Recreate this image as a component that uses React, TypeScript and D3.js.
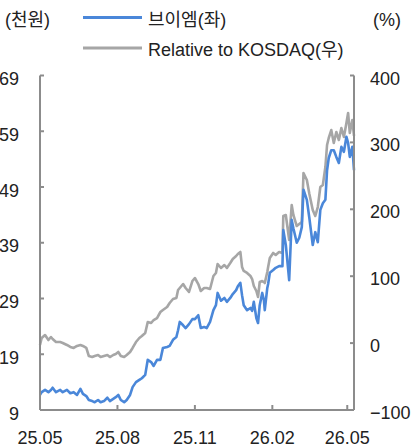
import React from "react";
import * as d3 from "d3";

const dates = [
  "2025-05-01","2025-05-03","2025-05-07","2025-05-11","2025-05-14","2025-05-16","2025-05-20","2025-05-25","2025-05-28",
  "2025-06-02","2025-06-06","2025-06-10","2025-06-14","2025-06-18","2025-06-21","2025-06-25","2025-06-28",
  "2025-07-02","2025-07-05","2025-07-09","2025-07-12","2025-07-16","2025-07-20","2025-07-23","2025-07-27","2025-07-30",
  "2025-08-02","2025-08-05","2025-08-09","2025-08-12","2025-08-16","2025-08-19","2025-08-23","2025-08-27","2025-08-30",
  "2025-09-03","2025-09-06","2025-09-10","2025-09-13","2025-09-17","2025-09-21","2025-09-24","2025-09-29",
  "2025-10-02","2025-10-06","2025-10-10","2025-10-12","2025-10-14","2025-10-18","2025-10-21","2025-10-25","2025-10-29",
  "2025-11-01","2025-11-05","2025-11-08","2025-11-12","2025-11-15","2025-11-19","2025-11-23","2025-11-26","2025-11-28",
  "2025-12-02","2025-12-06","2025-12-09","2025-12-13","2025-12-16","2025-12-20","2025-12-22","2025-12-25","2025-12-27","2025-12-29",
  "2026-01-02","2026-01-06","2026-01-08","2026-01-10","2026-01-13","2026-01-15","2026-01-17","2026-01-20","2026-01-22","2026-01-23","2026-01-26","2026-01-27","2026-01-29",
  "2026-02-02","2026-02-05","2026-02-09","2026-02-13","2026-02-14","2026-02-17","2026-02-21","2026-02-24","2026-02-26",
  "2026-03-02","2026-03-05","2026-03-08","2026-03-10","2026-03-14","2026-03-17","2026-03-21","2026-03-24","2026-03-27","2026-03-30",
  "2026-04-02","2026-04-05","2026-04-07","2026-04-09","2026-04-12","2026-04-15","2026-04-18","2026-04-21","2026-04-24","2026-04-27","2026-04-30",
  "2026-05-02","2026-05-04","2026-05-07","2026-05-09",
];

// 브이엠 share price (천원)
const price = [
  11.7,12.2,12.6,12.2,12.6,13.0,12.2,12.6,12.2,
  12.6,12.0,12.2,11.7,12.8,11.9,11.5,10.8,
  10.6,10.4,10.8,10.4,10.6,11.2,10.6,11.0,11.3,
  11.7,10.8,10.4,10.8,11.7,13.1,14.0,14.4,14.7,
  15.3,18.0,17.6,16.9,18.0,18.0,20.1,20.3,
  20.5,21.6,22.1,23.3,24.8,24.2,23.7,24.4,25.3,
  25.3,26.0,23.7,23.9,23.7,24.8,26.9,27.8,30.0,
  28.6,29.1,28.4,29.1,29.8,30.5,31.2,31.8,29.6,27.8,
  26.9,27.3,26.8,28.4,25.5,24.6,27.8,30.0,28.7,26.9,30.9,31.6,33.6,
  34.1,34.5,34.8,34.8,41.3,38.6,32.3,43.1,41.6,
  39.0,39.9,41.8,48.5,46.7,43.4,38.6,40.9,39.1,44.9,
  46.1,46.7,52.0,54.2,55.6,55.6,54.4,53.3,56.2,55.3,58.0,
  56.9,54.4,56.2,52.0,
];

// Relative to KOSDAQ (%)
const relative = [
  -2.8,7.6,12.1,4.6,9.1,6.1,1.6,1.6,0.2,
  -2.8,-5.8,-7.3,-4.3,-2.8,-4.3,-7.3,-19.3,
  -20.8,-19.3,-17.8,-20.8,-19.3,-17.8,-20.8,-17.8,-16.3,
  -13.3,-19.3,-20.8,-17.8,-13.3,-7.3,1.6,7.6,10.6,
  15.1,31.5,30.0,34.5,37.5,46.5,49.5,54.0,
  59.9,65.9,67.4,79.4,82.4,88.3,82.4,76.4,92.8,
  97.3,88.3,77.9,82.4,82.4,80.9,100.3,104.8,118.2,
  112.3,116.7,112.3,119.7,125.7,130.2,133.2,136.2,113.8,107.8,
  104.8,100.3,95.8,85.4,77.9,68.9,91.3,92.8,91.3,89.8,106.3,113.8,127.2,
  134.7,131.7,136.2,134.7,190.0,191.5,154.1,206.4,191.5,
  175.0,178.0,181.0,254.3,243.8,222.9,199.0,190.0,203.4,233.3,
  236.3,263.2,296.1,306.6,318.5,299.1,315.6,303.6,321.5,308.1,329.0,
  344.0,314.1,333.5,309.6,
];

const leftTicks = [9, 19, 29, 39, 49, 59, 69];
const rightTicks = [-100, 0, 100, 200, 300, 400];
const xTickDates = ["2025-05-01", "2025-08-01", "2025-11-01", "2026-02-01", "2026-05-01"];
const legendLabels = ["브이엠(좌)", "Relative to KOSDAQ(우)"];
const leftUnit = "(천원)";
const rightUnit = "(%)";

const BLUE = "#4a87d9";
const GRAY = "#a6a6a6";
const AXIS = "#8c8c8c";
const TEXT = "#222";
const FONT = "'Liberation Sans', Arial, 'Noto Sans CJK KR', sans-serif";

export default function App() {
  const parse = d3.timeParse("%Y-%m-%d");
  const fmt = d3.timeFormat("%y.%m");
  const L = 40, R = 354, T = 75.5, B = 410;

  const x = d3.scaleTime()
    .domain([parse("2025-05-01")!, parse("2026-05-09")!])
    .range([L, R]);
  const yL = d3.scaleLinear().domain([9, 69]).range([B, T]);
  const yR = d3.scaleLinear().domain([-100, 400]).range([B, T]);

  const pts = dates.map((d, i) => ({ date: parse(d)!, p: price[i], r: relative[i] }));
  const linePrice = d3.line<any>().x(d => x(d.date)).y(d => yL(d.p));
  const lineRel = d3.line<any>().x(d => x(d.date)).y(d => yR(d.r));
  const fmtR = d3.format("");

  return (
    <svg width={416} height={448} style={{ position: "absolute", left: 0, top: 0, background: "#fff" }}
      fontFamily={FONT}>
      <rect x={0} y={0} width={416} height={448} fill="#fff" />
      {/* header */}
      <text x={5} y={26} fontSize={18} fill={TEXT}>{leftUnit}</text>
      <text x={373} y={26} fontSize={18} fill={TEXT}>{rightUnit}</text>
      <line x1={83} x2={142} y1={17.5} y2={17.5} stroke={BLUE} strokeWidth={3} />
      <text x={148} y={26} fontSize={18} fill={TEXT}>{legendLabels[0]}</text>
      <line x1={83} x2={142} y1={48} y2={48} stroke={GRAY} strokeWidth={3} />
      <text x={148} y={56} fontSize={18} fill={TEXT}>{legendLabels[1]}</text>

      {/* series */}
      <path d={lineRel(pts) || ""} fill="none" stroke={GRAY} strokeWidth={2.6} strokeLinejoin="round" />
      <path d={linePrice(pts) || ""} fill="none" stroke={BLUE} strokeWidth={2.6} strokeLinejoin="round" />

      {/* axes */}
      <line x1={L} x2={L} y1={T} y2={B} stroke={AXIS} strokeWidth={2} />
      <line x1={R} x2={R} y1={T} y2={B} stroke={AXIS} strokeWidth={2} />
      <line x1={L} x2={R} y1={B} y2={B} stroke={AXIS} strokeWidth={2} />

      {leftTicks.map(t => (
        <g key={"l" + t}>
          <line x1={L} x2={L + 4} y1={yL(t)} y2={yL(t)} stroke={AXIS} strokeWidth={2} />
          <text x={19} y={yL(t) + 9.5} fontSize={18} textAnchor="end" fill={TEXT}>{t}</text>
        </g>
      ))}
      {rightTicks.map(t => (
        <g key={"r" + t}>
          <line x1={R - 4} x2={R} y1={yR(t)} y2={yR(t)} stroke={AXIS} strokeWidth={2} />
          <text x={370} y={yR(t) + 9} fontSize={18} textAnchor="start" fill={TEXT}>{fmtR(t)}</text>
        </g>
      ))}
      {xTickDates.map(s => {
        const d = parse(s)!;
        return (
          <g key={s}>
            <line x1={x(d)} x2={x(d)} y1={B} y2={B - 5} stroke={AXIS} strokeWidth={2} />
            <text x={x(d)} y={443.5} fontSize={18} textAnchor="middle" fill={TEXT}>{fmt(d)}</text>
          </g>
        );
      })}
    </svg>
  );
}
